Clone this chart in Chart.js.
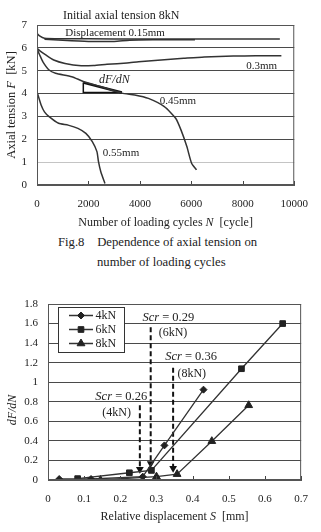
<!DOCTYPE html>
<html><head><meta charset="utf-8">
<script src="https://cdn.jsdelivr.net/npm/chart.js@4/dist/chart.umd.min.js"></script>
<style>
html,body{margin:0;padding:0;background:#fff;}
body{width:321px;height:532px;position:relative;overflow:hidden;font-family:"Liberation Serif","Times New Roman",serif;color:#222;}
.t{position:absolute;white-space:pre;font-size:12px;line-height:14px;z-index:2;}
.cap{font-size:12.7px;line-height:15px;}
#c1{position:absolute;left:0;top:0;}
#c2{position:absolute;left:0;top:282px;}
</style></head><body>
<div class="t" style="left:63px;top:8px;">Initial axial tension 8kN</div>
<canvas id="c1" width="321" height="232"></canvas>
<div class="t cap" style="left:58px;top:235px;">Fig.8    Dependence of axial tension on</div>
<div class="t cap" style="left:97px;top:255px;">number of loading cycles</div>
<canvas id="c2" width="321" height="250"></canvas>
<script>
// ---------- Top chart data: axial tension F [kN] vs cycles N ----------
const topTickN = ['0','2000','4000','6000','8000','10000'];
const topTickF = ['0','1','2','3','4','5','6','7'];
const n015a = [0,100,290,1000,3000,6000,9440];
const f015a = [6.64,6.52,6.42,6.40,6.39,6.39,6.39];
const n015b = [290,1000,2000,3000,3600,4500,6140];
const f015b = [6.38,6.33,6.28,6.28,6.33,6.35,6.36];
const n03 = [0,100,340,650,1090,1720,2200,2720,3500,3950,4950,5700,6500,7630,8500,9500];
const f03 = [5.98,5.88,5.69,5.47,5.32,5.22,5.23,5.28,5.34,5.39,5.48,5.54,5.60,5.64,5.65,5.66];
const n045 = [0,100,230,470,720,1350,1800,2500,3300,3800,4330,4950,5390,5600,5825,6010,6200];
const f045 = [5.95,5.70,5.39,5.03,4.89,4.74,4.53,4.30,4.02,3.94,3.79,3.43,2.92,2.40,1.68,0.95,0.66];
const n055 = [0,160,290,470,840,1210,1590,1900,2150,2330,2390,2480,2640];
const f055 = [4.08,3.50,3.20,2.99,2.70,2.62,2.48,2.26,1.90,1.46,1.02,0.58,0.07];
const triN = [1800,1800,3300];
const triF = [4.48,4.05,4.05];
const curveLabelText = ['Displacement 0.15mm','0.3mm','0.45mm','0.55mm'];
const curveLabelN = [1100,8130,4770,2560];
const curveLabelF = [6.65,5.21,3.67,1.40];
const slopeLabelN = 2411, slopeLabelF = 4.59;

// ---------- Bottom chart data: dF/dN vs relative displacement S ----------
const sTicks = ['0','0.1','0.2','0.3','0.4','0.5','0.6','0.7'];
const vTicks = ['0','0.2','0.4','0.6','0.8','1','1.2','1.4','1.6','1.8'];
const seriesNames = ['4kN','6kN','8kN'];
const s4 = [0.031,0.119,0.262,0.322,0.430];
const v4 = [0.010,0.010,0.034,0.354,0.924];
const s6 = [0.082,0.225,0.286,0.535,0.649];
const v6 = [0.014,0.074,0.098,1.138,1.600];
const s8 = [0.145,0.300,0.357,0.453,0.555];
const v8 = [0.000,0.034,0.060,0.397,0.764];
const scrS = [0.254,0.284,0.346];
const scrTop = [0.764,1.562,1.148];
const scrHead = [0.11,0.17,0.12];
const scrValue = ['0.26','0.29','0.36'];
const scrLoad = ['(4kN)','(6kN)','(8kN)'];
const scrLabelS = [0.131,0.261,0.324];
const scrLabelV = [0.856,1.664,1.260];
const loadLabelS = [0.150,0.306,0.358];
const loadLabelV = [0.686,1.500,1.090];

const SERIF = '"Liberation Serif", "Times New Roman", serif';

function pts(xs, ys){ return xs.map((x,i)=>({x:x, y:ys[i]})); }
function drawRich(ctx, parts, x, y, o){
  o = o || {};
  const size = o.size || 12;
  ctx.save();
  ctx.fillStyle = o.color || '#222';
  ctx.textBaseline = 'middle';
  ctx.textAlign = 'left';
  ctx.translate(x, y);
  if (o.rotate) ctx.rotate(o.rotate);
  const fonts = parts.map(p => (p[1] ? 'italic ' : '') + size + 'px ' + SERIF);
  let total = 0;
  parts.forEach((p,i)=>{ ctx.font = fonts[i]; total += ctx.measureText(p[0]).width; });
  let cx = o.align === 'center' ? -total/2 : 0;
  parts.forEach((p,i)=>{ ctx.font = fonts[i]; ctx.fillText(p[0], cx, 0); cx += ctx.measureText(p[0]).width; });
  ctx.restore();
}
function innerTicksAndBorder(chart){
  const {ctx, chartArea:a, scales:{x}} = chart;
  ctx.save();
  ctx.strokeStyle = '#444'; ctx.lineWidth = 1;
  x.ticks.forEach(t => {
    const px = Math.round(x.getPixelForValue(t.value)) + 0.5;
    ctx.beginPath(); ctx.moveTo(px, a.bottom); ctx.lineTo(px, a.bottom - 4); ctx.stroke();
  });
  ctx.strokeStyle = '#555';
  ctx.strokeRect(a.left + 0.5, a.top + 0.5, a.right - a.left - 1, a.bottom - a.top - 1);
  ctx.restore();
}

function build(){
  Chart.defaults.font.family = SERIF;
  Chart.defaults.color = '#222';
  const tickFont = {family: SERIF, size: 11};
  const lineStyle = {borderColor:'#333', borderWidth:1.5, pointRadius:0, showLine:true, tension:0.2, fill:false};

  // ---------- Top chart ----------
  const topDeco = {
    id:'topDeco',
    afterDraw(chart){
      const {ctx, chartArea:a, scales:{x,y}} = chart;
      innerTicksAndBorder(chart);
      curveLabelText.forEach((t,i)=> drawRich(ctx, [[t,0]], x.getPixelForValue(curveLabelN[i]), y.getPixelForValue(curveLabelF[i]), {size:11}));
      drawRich(ctx, [['dF/dN',1]], x.getPixelForValue(slopeLabelN), y.getPixelForValue(slopeLabelF), {size:12});
      drawRich(ctx, [['Number of loading cycles ',0],['N',1],['  [cycle]',0]], (a.left+a.right)/2, 223, {align:'center', size:12});
      drawRich(ctx, [['Axial tension ',0],['F',1],['  [kN]',0]], 12, (a.top+a.bottom)/2, {align:'center', size:12.5, rotate:-Math.PI/2});
    }
  };
  new Chart(document.getElementById('c1'), {
    type:'scatter',
    data:{datasets:[
      Object.assign({label:'0.15mm', data:pts(n015a,f015a)}, lineStyle),
      Object.assign({label:'0.15mm', data:pts(n015b,f015b)}, lineStyle),
      Object.assign({label:'0.3mm', data:pts(n03,f03)}, lineStyle),
      Object.assign({label:'0.45mm', data:pts(n045,f045)}, lineStyle),
      Object.assign({label:'0.55mm', data:pts(n055,f055)}, lineStyle),
      {label:'dF/dN', data:pts(triN,triF), borderColor:'#111', borderWidth:1.5, pointRadius:0, showLine:true, tension:0},
      {label:'dF/dN slope', data:pts([triN[0],triN[2]],[triF[0],triF[2]]), borderColor:'#111', borderWidth:2.5, pointRadius:0, showLine:true, tension:0}
    ]},
    options:{
      responsive:false, animation:false, events:[],
      layout:{padding:{top:25, right:16, left:0, bottom:0}},
      plugins:{legend:{display:false}, tooltip:{enabled:false}},
      scales:{
        x:{type:'linear', min:0, max:10000,
          afterFit(s){ s.height = 47; },
          ticks:{stepSize:2000, autoSkip:false, maxRotation:0, padding:13, font:tickFont, color:'#222',
            callback:(v,i)=> topTickN[i]},
          grid:{display:false, drawTicks:false},
          border:{display:true, color:'#555'}},
        y:{min:0, max:7,
          afterFit(s){ s.width = 37; },
          ticks:{stepSize:1, padding:10, font:tickFont, color:'#222', callback:(v,i)=> topTickF[i]},
          grid:{drawTicks:false, color:c=> (c.tick && c.tick.value===1) ? '#c4c4c4' : '#4a4a4a'},
          border:{display:true, color:'#555'}}
      }
    },
    plugins:[topDeco]
  });

  // ---------- Bottom chart ----------
  const marker = [
    {pointStyle:'rectRot', pointRadius:3.5},
    {pointStyle:'rect', pointRadius:4},
    {pointStyle:'triangle', pointRadius:4.5}
  ];
  const bottomDeco = {
    id:'bottomDeco',
    afterDraw(chart){
      const {ctx, chartArea:a, scales:{x,y}} = chart;
      innerTicksAndBorder(chart);
      const bx = a.left + 10, by = a.top + 3, bw = 66, bh = 45;
      ctx.save();
      ctx.fillStyle = '#fff'; ctx.fillRect(bx, by, bw, bh);
      ctx.strokeStyle = '#333'; ctx.lineWidth = 1; ctx.strokeRect(bx + 0.5, by + 0.5, bw, bh);
      seriesNames.forEach((name,i)=>{
        const ly = by + 8.5 + i*14;
        ctx.strokeStyle = '#333'; ctx.lineWidth = 1.5;
        ctx.beginPath(); ctx.moveTo(bx + 11, ly); ctx.lineTo(bx + 35, ly); ctx.stroke();
        ctx.fillStyle = '#222'; ctx.strokeStyle = '#222'; ctx.lineWidth = 1;
        Chart.helpers.drawPoint(ctx, {pointStyle:marker[i].pointStyle, radius:marker[i].pointRadius, rotation:0, borderWidth:1}, bx + 23, ly);
        drawRich(ctx, [[name,0]], bx + 37.5, ly, {size:12});
      });
      ctx.restore();
      scrValue.forEach((v,i)=>{
        drawRich(ctx, [['Scr',1],[' = ' + v,0]], x.getPixelForValue(scrLabelS[i]), y.getPixelForValue(scrLabelV[i]), {size:12.5});
        drawRich(ctx, [[scrLoad[i],0]], x.getPixelForValue(loadLabelS[i]), y.getPixelForValue(loadLabelV[i]), {size:12});
      });
      drawRich(ctx, [['Relative displacement ',0],['S',1],['  [mm]',0]], (a.left+a.right)/2, 234.7, {align:'center', size:12});
      drawRich(ctx, [['dF/dN',1]], 13, 128, {align:'center', size:12, rotate:-Math.PI/2});
    }
  };
  const seriesData = [[s4,v4],[s6,v6],[s8,v8]];
  const ds2 = seriesData.map((d,i)=> ({
    label: seriesNames[i], data: pts(d[0], d[1]), showLine:true, tension:0,
    borderColor:'#333', borderWidth:1.3,
    pointStyle: marker[i].pointStyle, pointRadius: marker[i].pointRadius,
    pointBackgroundColor:'#222', pointBorderColor:'#222', pointBorderWidth:1
  }));
  scrS.forEach((s,i)=> ds2.push({
    label:'Scr ' + scrValue[i], data: pts([s,s],[scrTop[i],scrHead[i]]), showLine:true, tension:0,
    borderColor:'#111', borderWidth:2, borderDash:[5,3],
    pointStyle:'triangle', pointRotation:180, pointRadius:[0,4.5],
    pointBackgroundColor:'#111', pointBorderColor:'#111', pointBorderWidth:0
  }));
  new Chart(document.getElementById('c2'), {
    type:'scatter',
    data:{datasets: ds2},
    options:{
      responsive:false, animation:false, events:[],
      layout:{padding:{top:22, right:8, left:0, bottom:0}},
      plugins:{legend:{display:false}, tooltip:{enabled:false}},
      scales:{
        x:{type:'linear', min:0, max:0.7,
          afterFit(s){ s.height = 52; },
          ticks:{stepSize:0.1, autoSkip:false, maxRotation:0, padding:13, font:tickFont, color:'#222',
            callback:(v,i)=> sTicks[i]},
          grid:{display:false, drawTicks:false},
          border:{display:true, color:'#555'}},
        y:{min:0, max:1.8,
          afterFit(s){ s.width = 48; },
          ticks:{stepSize:0.2, padding:10, font:tickFont, color:'#222', callback:(v,i)=> vTicks[i]},
          grid:{drawTicks:false, color:'#4a4a4a'},
          border:{display:true, color:'#555'}}
      }
    },
    plugins:[bottomDeco]
  });
}

let built = false;
function go(){ if (!built) { built = true; build(); } }
if (document.fonts && document.fonts.load) {
  Promise.all([
    document.fonts.load('12px "Liberation Serif"'),
    document.fonts.load('italic 12px "Liberation Serif"')
  ]).then(go, go);
  setTimeout(go, 1500);
} else { go(); }
</script>
</body></html>
